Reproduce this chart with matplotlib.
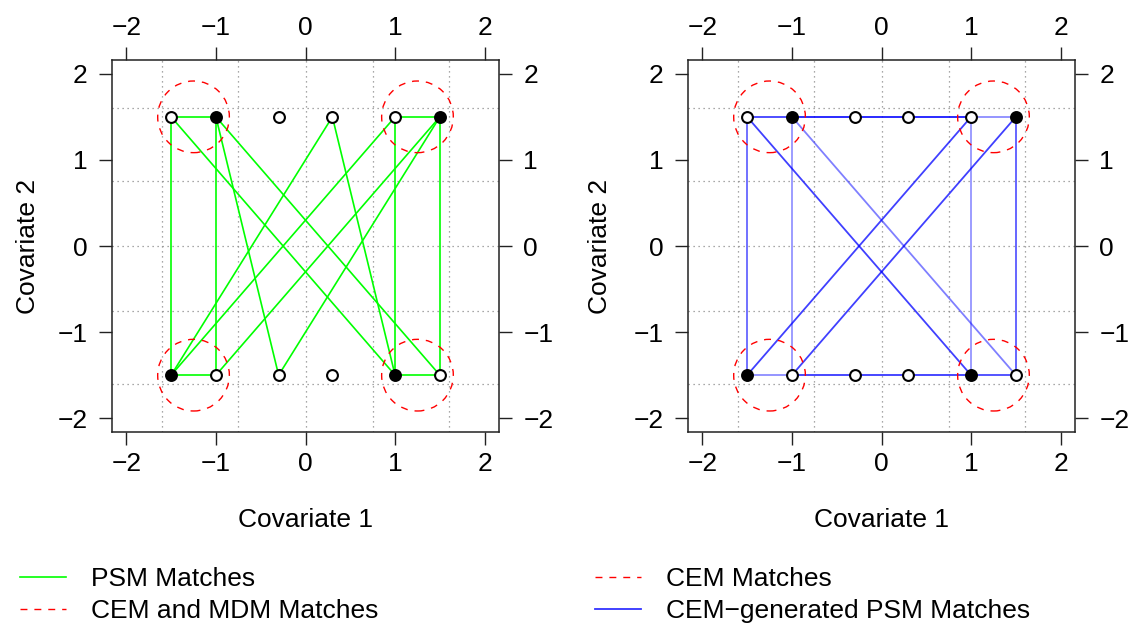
import matplotlib
matplotlib.use("Agg")
import matplotlib.pyplot as plt
from matplotlib.patches import Ellipse
from matplotlib.lines import Line2D

# ---------------- data ----------------
treated_x = [-1.0, 1.5, -1.5, 1.0]
treated_y = [1.5, 1.5, -1.5, -1.5]
control_x = [-1.5, -0.3, 0.3, 1.0, -1.0, -0.3, 0.3, 1.5]
control_y = [1.5, 1.5, 1.5, 1.5, -1.5, -1.5, -1.5, -1.5]

# PSM matches (treated index -> control index)
psm_treated = [0, 0, 0, 0, 1, 1, 1, 1, 2, 2, 2, 2, 3, 3, 3, 3]
psm_control = [0, 4, 5, 7, 3, 7, 4, 5, 0, 4, 2, 3, 7, 3, 0, 2]

# CEM-generated PSM matches with line opacity (weight)
cpsm_treated = [0, 0, 0, 0, 1, 1, 1, 2, 2, 2, 3, 3, 3, 3]
cpsm_control = [0, 3, 4, 7, 3, 7, 4, 0, 4, 3, 4, 7, 3, 0]
cpsm_weight = [0.75, 0.9, 0.42, 0.5, 0.45, 0.65, 0.75, 0.6, 0.45, 0.75, 0.78, 0.72, 0.42, 0.75]

# CEM strata (circles)
cem_x = [-1.25, 1.25, -1.25, 1.25]
cem_y = [1.5, 1.5, -1.5, -1.5]
cem_radius = 0.4

grid_cuts = [-1.6, -0.75, 0.0, 0.75, 1.6]
ticks = [-2, -1, 0, 1, 2]
lim = 2.16

# ---------------- figure ----------------
W, H = 1134, 631
plt.rcParams['font.family'] = ['Liberation Sans', 'DejaVu Sans']
fig = plt.figure(figsize=(W / 100, H / 100), dpi=100)

FS = 19


def make_ax(x0, x1, y0, y1):
    return fig.add_axes([x0 / W, 1 - y1 / H, (x1 - x0) / W, (y1 - y0) / H])


ax1 = make_ax(112, 499, 60, 432)
ax2 = make_ax(688, 1075, 60, 432)


def style(ax, ylabel_x):
    ax.set_xlim(-lim, lim)
    ax.set_ylim(-lim, lim)
    ax.set_xticks(ticks)
    ax.set_yticks(ticks)
    ax.set_xticklabels([str(t).replace('-', '\u2212') for t in ticks])
    ax.set_yticklabels([str(t).replace('-', '\u2212') for t in ticks])
    ax.tick_params(axis='both', direction='out', length=9.5, width=1.0,
                   color='#222222', labelsize=FS, top=True, right=True,
                   labeltop=True, labelright=True)
    ax.tick_params(axis='x', pad=5)
    ax.tick_params(axis='y', pad=8)
    for s in ax.spines.values():
        s.set_linewidth(1.1)
        s.set_color('#222222')
    for g in grid_cuts:
        ax.axvline(g, color='#8c8c8c', lw=0.9, ls=(0, (1, 3)), zorder=1)
        ax.axhline(g, color='#8c8c8c', lw=0.9, ls=(0, (1, 3)), zorder=1)
    ax.set_xlabel('Covariate 1', fontsize=FS, va='center')
    ax.xaxis.set_label_coords(0.5, -88 / 372)
    ax.set_ylabel('Covariate 2', fontsize=FS, va='center')
    ax.yaxis.set_label_coords(ylabel_x, 0.5)
    # CEM circles (drawn as circles in screen space)
    sx = 387 / (2 * lim)
    sy = 372 / (2 * lim)
    for cx, cy in zip(cem_x, cem_y):
        ax.add_patch(Ellipse((cx, cy), 2 * cem_radius, 2 * cem_radius * sx / sy,
                             fill=False, ec='red', lw=1.0, ls=(0, (5, 5)), zorder=4))


def points(ax):
    ax.plot(control_x, control_y, 'o', ms=7.8, mfc='white', mec='black', mew=1.5,
            zorder=6, ls='none')
    ax.plot(treated_x, treated_y, 'o', ms=7.8, mfc='black', mec='black', mew=1.5,
            zorder=6, ls='none')


style(ax1, (28 - 112) / 387)
style(ax2, (600 - 688) / 387)

for t, c in zip(psm_treated, psm_control):
    ax1.plot([treated_x[t], control_x[c]], [treated_y[t], control_y[c]],
             color='#00ff00', lw=1.2, zorder=3, solid_capstyle='butt')

for t, c, w in zip(cpsm_treated, cpsm_control, cpsm_weight):
    ax2.plot([treated_x[t], control_x[c]], [treated_y[t], control_y[c]],
             color='blue', alpha=w, lw=1.3, zorder=3, solid_capstyle='butt')

points(ax1)
points(ax2)

# ---------------- legends ----------------
h_psm = Line2D([], [], color='#00ff00', lw=1.2)
h_cem_red = Line2D([], [], color='red', lw=1.0, ls=(0, (5, 5)))
h_blue = Line2D([], [], color='blue', alpha=0.8, lw=1.3)

common = dict(frameon=False, fontsize=FS, handlelength=1.75, handletextpad=0.95,
              labelspacing=0.32, borderpad=0, borderaxespad=0, loc='upper left')
fig.legend([h_psm, h_cem_red], ['PSM Matches', 'CEM and MDM Matches'],
           bbox_to_anchor=(20 / W, 1 - 567 / H), **common)
fig.legend([h_cem_red, h_blue], ['CEM Matches', 'CEM\u2212generated PSM Matches'],
           bbox_to_anchor=(595 / W, 1 - 567 / H), **common)

fig.savefig('out.png', dpi=100)
